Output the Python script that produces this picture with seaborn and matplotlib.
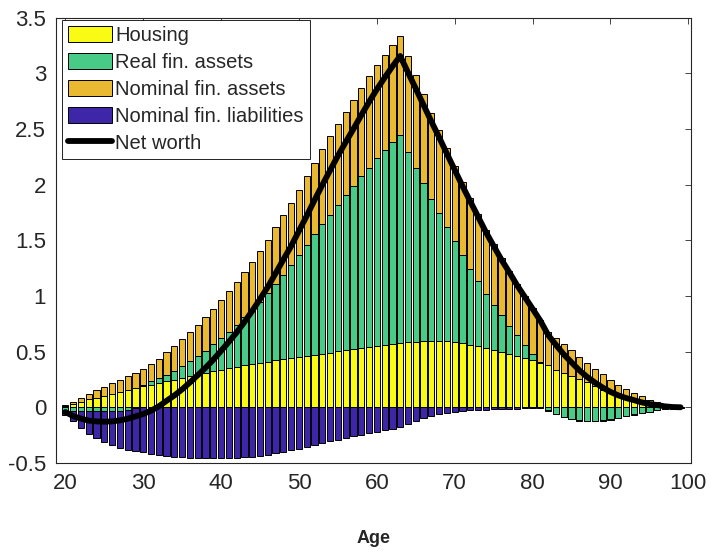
import numpy as np
import matplotlib
matplotlib.use('Agg')
import matplotlib.pyplot as plt
import seaborn as sns
from matplotlib.patches import Patch
from matplotlib.lines import Line2D
from matplotlib.ticker import FuncFormatter

# age grid (one bar per year)
ages = list(range(20, 100))

housing = [0.015, 0.033, 0.051, 0.072, 0.087, 0.105, 0.123, 0.141, 0.158, 0.172,
           0.190, 0.203, 0.220, 0.233, 0.250, 0.265, 0.280, 0.295, 0.312, 0.326,
           0.340, 0.352, 0.365, 0.377, 0.388, 0.400, 0.411, 0.422, 0.433, 0.443,
           0.453, 0.463, 0.473, 0.483, 0.493, 0.502, 0.512, 0.522, 0.532, 0.542,
           0.552, 0.562, 0.570, 0.578, 0.585, 0.590, 0.593, 0.595, 0.595, 0.592,
           0.585, 0.575, 0.562, 0.547, 0.530, 0.512, 0.494, 0.476, 0.458, 0.440,
           0.422, 0.400, 0.385, 0.340, 0.310, 0.281, 0.253, 0.224, 0.192, 0.160,
           0.130, 0.103, 0.081, 0.061, 0.043, 0.030, 0.018, 0.010, 0.005, 0.002]

real_fin = [-0.030, -0.035, -0.035, -0.035, -0.035, -0.035, -0.035, -0.030, -0.020, -0.010,
            0.010, 0.030, 0.045, 0.060, 0.080, 0.105, 0.134, 0.165, 0.198, 0.240,
            0.280, 0.328, 0.375, 0.433, 0.492, 0.545, 0.614, 0.686, 0.757, 0.834,
            0.917, 0.997, 1.082, 1.162, 1.237, 1.318, 1.393, 1.468, 1.543, 1.613,
            1.685, 1.748, 1.813, 1.868, 1.711, 1.562, 1.419, 1.279, 1.151, 1.025,
            0.907, 0.794, 0.685, 0.586, 0.490, 0.409, 0.332, 0.257, 0.188, 0.122,
            0.059, 0.010, -0.025, -0.057, -0.087, -0.105, -0.117, -0.123, -0.123, -0.117,
            -0.108, -0.094, -0.079, -0.064, -0.052, -0.039, -0.027, -0.018, -0.012, -0.005]

nominal_fin = [0.009, 0.015, 0.036, 0.048, 0.065, 0.080, 0.092, 0.107, 0.120, 0.139,
               0.144, 0.156, 0.172, 0.203, 0.220, 0.240, 0.261, 0.284, 0.303, 0.319,
               0.344, 0.363, 0.384, 0.404, 0.429, 0.463, 0.482, 0.509, 0.538, 0.559,
               0.585, 0.615, 0.645, 0.675, 0.706, 0.730, 0.753, 0.772, 0.795, 0.820,
               0.838, 0.858, 0.873, 0.890, 0.861, 0.832, 0.801, 0.775, 0.744, 0.712,
               0.681, 0.652, 0.630, 0.604, 0.576, 0.547, 0.516, 0.495, 0.463, 0.439,
               0.413, 0.375, 0.295, 0.282, 0.256, 0.230, 0.198, 0.174, 0.155, 0.136,
               0.118, 0.100, 0.083, 0.069, 0.055, 0.039, 0.030, 0.017, 0.010, 0.004]

nominal_liab = [-0.036, -0.091, -0.153, -0.204, -0.243, -0.279, -0.306, -0.335, -0.360, -0.382,
                -0.404, -0.419, -0.428, -0.437, -0.443, -0.448, -0.451, -0.455, -0.457, -0.457,
                -0.456, -0.454, -0.451, -0.447, -0.442, -0.435, -0.425, -0.413, -0.400, -0.386,
                -0.370, -0.354, -0.338, -0.322, -0.306, -0.290, -0.275, -0.260, -0.245, -0.231,
                -0.218, -0.206, -0.193, -0.179, -0.148, -0.120, -0.097, -0.080, -0.064, -0.050,
                -0.040, -0.033, -0.027, -0.024, -0.021, -0.018, -0.015, -0.013, -0.011, -0.009,
                -0.008, -0.007, -0.005, -0.004, -0.003, -0.002, -0.001, -0.001, -0.001, -0.001,
                -0.001, -0.001, -0.001, -0.001, -0.001, 0.0, 0.0, 0.0, 0.0, 0.0]

labels = ['Housing', 'Real fin. assets', 'Nominal fin. assets',
          'Nominal fin. liabilities', 'Net worth']
colors = ['#F9FB15', '#48CB86', '#E9B931', '#3E26A8']

sns.set_style('white')
plt.rcParams['font.family'] = ['Liberation Sans', 'DejaVu Sans']

h = np.array(housing)
r = np.array(real_fin)
n = np.array(nominal_fin)
l = np.array(nominal_liab)
net_worth = h + r + n + l

# stacking like matlab: positives upwards, negatives downwards
bottoms = [np.zeros_like(h),
           np.where(r > 0, h, 0.0),
           h + np.maximum(r, 0.0),
           np.minimum(r, 0.0)]

fig = plt.figure(figsize=(7.13, 5.53), dpi=100)
ax = fig.add_axes([0.0785, 0.1627, 0.8913, 0.8051])

for vals, bot, c in zip([h, r, n, l], bottoms, colors):
    sns.barplot(x=ages, y=vals, bottom=bot, color=c, saturation=1,
                native_scale=True, errorbar=None, width=0.8,
                edgecolor='black', linewidth=0.7, ax=ax)

sns.lineplot(x=ages, y=net_worth, color='black', linewidth=4.2, ax=ax)

ax.set_xlim(18.8, 100.4)
ax.set_ylim(-0.5, 3.5)
ax.set_xticks(range(20, 101, 10))
ax.set_yticks(np.arange(-0.5, 3.51, 0.5))
ax.yaxis.set_major_formatter(FuncFormatter(lambda v, p: '%g' % v))
ax.tick_params(direction='in', length=4, width=0.6, top=True, right=True,
               labelsize=16, colors='#262626', pad=7)
for s in ax.spines.values():
    s.set_color('#262626')
    s.set_linewidth(0.8)
ax.set_ylabel('')
ax.set_xlabel('Age', fontweight='bold', fontsize=13, labelpad=26)

handles = [Patch(facecolor=c, edgecolor='black', linewidth=0.7, label=lb)
           for c, lb in zip(colors, labels[:4])]
handles.append(Line2D([0], [0], color='black', linewidth=4.2, label=labels[4]))
leg = ax.legend(handles=handles, loc='upper left', bbox_to_anchor=(0.0094, 0.996),
                borderaxespad=0, frameon=True, fancybox=False, edgecolor='black',
                framealpha=1, fontsize=14.5, handlelength=2.2, handleheight=0.9,
                handletextpad=0.15, labelspacing=0.38, borderpad=0.3)
leg.get_frame().set_linewidth(0.6)

fig.savefig('out.png', dpi=100)
